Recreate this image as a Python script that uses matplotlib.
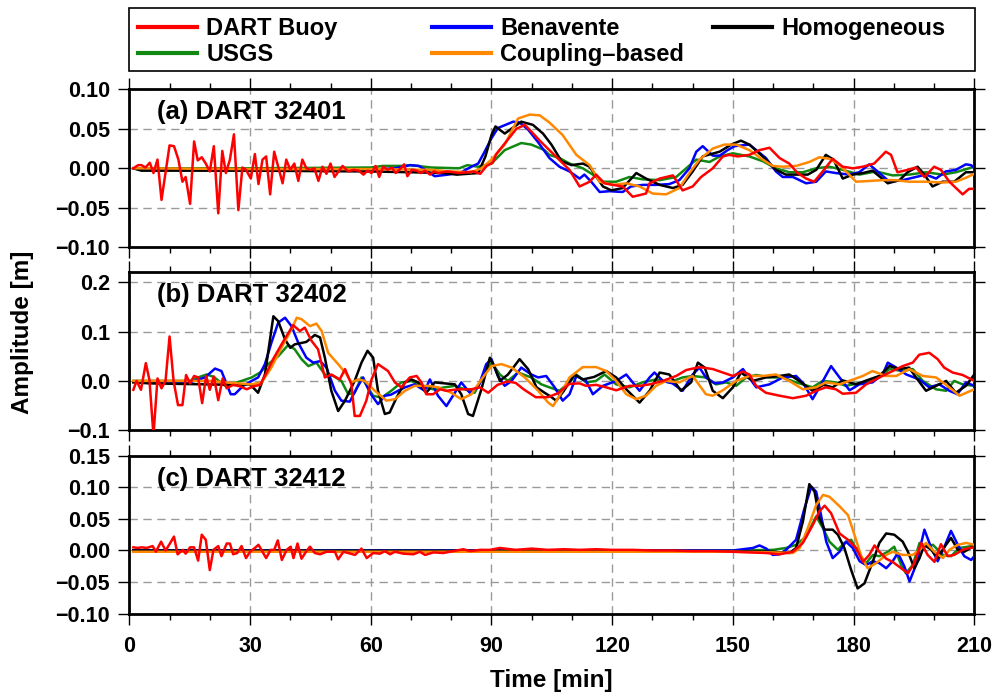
import matplotlib
matplotlib.use('Agg')
import matplotlib.pyplot as plt
from matplotlib.lines import Line2D
from matplotlib.patches import Rectangle
from matplotlib.ticker import MultipleLocator

plt.rcParams['font.family'] = ['Liberation Sans', 'DejaVu Sans']
plt.rcParams['font.weight'] = 'bold'

# ---- data (time [min], amplitude [m]) ----
# panel (a) DART 32401
a_dart = [(1, 0), (2.2, 0.004), (3, 0.004), (4, 0.001), (5.1, 0.007), (6, -0.006), (7, 0.011),
          (8, -0.040), (10, 0.029), (11.1, 0.028), (12.2, 0.011), (13.2, -0.017), (14, -0.011),
          (15.1, -0.045), (16.1, 0.034), (17, 0.010), (18, 0.014), (19, 0.006), (20, -0.004),
          (21, 0.028), (22.1, -0.057), (23.1, 0.022), (24, -0.006), (25, 0.011), (26, 0.043),
          (27.1, -0.053), (28.1, 0.001), (29, -0.002), (30.2, -0.013), (31.2, 0.018), (32.1, -0.020),
          (33.1, 0.011), (34, 0.015), (35, -0.033), (36, 0.021), (37, 0.002), (38.1, -0.019),
          (39, 0.011), (40, -0.002), (41, 0.006), (42, -0.016), (43, 0.011), (44, 0), (45, -0.002),
          (46, 0), (47, -0.016), (48, 0.002), (49, -0.007), (50, 0.006), (51, -0.011), (52, -0.004),
          (53, 0.003), (54.4, -0.004), (55.7, -0.002), (57, -0.003), (58.2, -0.008), (59.2, -0.003),
          (60.2, -0.006), (61.2, 0.003), (62.1, -0.011), (63.1, 0.002), (64.2, -0.002), (65.2, 0.001),
          (66.2, -0.006), (67.3, -0.001), (68.3, 0.005), (69.1, -0.010), (70.2, -0.002), (71.4, -0.003),
          (72.4, -0.006), (73.5, -0.003), (74.7, -0.008), (75.7, -0.004), (76.8, -0.006), (79, -0.004),
          (82, -0.006), (85.5, -0.004), (87.2, -0.007), (88.8, 0.003), (90.3, 0.007), (91.2, 0.018),
          (93.7, 0.034), (96.2, 0.050), (98.3, 0.055), (100, 0.046), (102, 0.035), (104.4, 0.023),
          (107, 0.010), (109.4, -0.002), (111.9, -0.023), (114.4, -0.017), (116, -0.008),
          (118.1, -0.019), (120.2, -0.021), (122.6, -0.023), (125.1, -0.036), (128.4, -0.032),
          (129.3, -0.019), (131.8, -0.013), (135.1, -0.009), (137.5, -0.028), (140, -0.023),
          (142.1, -0.011), (145, 0), (147.5, 0.015), (149.1, 0.017), (151.2, 0.015), (154.1, 0.017),
          (156.6, 0.023), (159.1, 0.026), (161.6, 0.013), (164, 0.006), (166.1, -0.006),
          (168.2, -0.013), (170.2, -0.017), (172.3, -0.004), (174.8, 0.012), (177.3, 0.002),
          (179.8, 0), (182.3, 0.002), (185.1, 0.006), (188, 0.021), (189.3, 0.017), (190.9, -0.005),
          (193.4, -0.002), (195.5, 0.001), (197.6, -0.011), (200, 0.002), (201.7, -0.002),
          (203.8, -0.017), (207.1, -0.033), (208.7, -0.026), (210, -0.026)]
a_benavente = [(1, 0), (3, -0.002), (60, -0.002), (66, 0), (69.8, 0.004), (72, 0.003), (75.9, -0.010),
               (79.2, -0.008), (82.5, -0.005), (85, 0.002), (86.7, 0.006), (88.3, 0.021), (90, 0.038),
               (91.6, 0.051), (95.4, 0.059), (97, 0.058), (99.1, 0.049), (101.6, 0.033), (104.4, 0.013),
               (106.9, 0.002), (109.4, -0.004), (111.9, -0.013), (113.1, -0.008), (114.8, -0.017),
               (116.9, -0.030), (119.3, -0.029), (122.6, -0.030), (124.7, -0.023), (127.6, -0.021),
               (130.9, -0.021), (134.2, -0.020), (136.7, -0.015), (139.2, 0), (140.9, 0.021),
               (142.5, 0.028), (145, 0.016), (146.7, 0.016), (148.7, 0.023), (150.4, 0.028),
               (154.1, 0.030), (155.8, 0.023), (158.2, 0.013), (160.7, -0.004), (162.4, -0.011),
               (164.9, -0.011), (168.2, -0.019), (170.7, -0.017), (173.1, -0.004), (175.6, -0.006),
               (178.9, -0.008), (181.4, -0.005), (183.9, 0.005), (186.4, -0.006), (188.9, -0.017),
               (192.2, -0.015), (195.5, -0.011), (198, -0.008), (200.5, -0.013), (202.9, -0.004),
               (205.4, -0.002), (207.9, 0.005), (209.2, 0.004), (210, 0)]
a_homogeneous = [(1, 0), (3, -0.003), (30, -0.003), (60, -0.004), (70, -0.005), (78, -0.006),
                 (81.4, -0.008), (84, -0.007), (86.7, -0.006), (88.5, 0.015), (90, 0.042), (91, 0.053),
                 (93.3, 0.044), (95.5, 0.052), (97.4, 0.059), (100.3, 0.055), (102.8, 0.044),
                 (104.9, 0.030), (107.4, 0.009), (109.9, 0.004), (112.7, 0.006), (114.4, 0.002),
                 (117.7, -0.023), (119.8, -0.028), (122.6, -0.025), (126, -0.006), (128.4, -0.013),
                 (131.8, -0.021), (135.1, -0.025), (137.5, -0.021), (140, -0.004), (142.5, 0.015),
                 (146.7, 0.021), (149.6, 0.030), (152, 0.035), (154.1, 0.030), (157.4, 0.015),
                 (160.7, -0.002), (163.2, -0.008), (165.7, -0.008), (168.6, -0.008), (170.7, -0.002),
                 (173.1, 0.017), (175, 0.011), (177.3, -0.013), (179.8, -0.008), (182.3, -0.006),
                 (184.7, -0.003), (188.5, -0.019), (191.4, -0.015), (193.4, -0.005), (195.9, 0.002),
                 (197.6, -0.008), (199.6, -0.023), (202.1, -0.017), (205, -0.017), (207.9, -0.005),
                 (210, -0.005)]
a_usgs = [(1, 0), (30, 0), (60, 0.001), (63, 0.003), (68, 0.003), (69.8, 0.004), (75, 0.001), (82, 0),
          (84, 0.004), (86.7, 0.002), (90, 0.006), (93.3, 0.023), (97.4, 0.032), (99.9, 0.030),
          (103.2, 0.023), (104.4, 0.017), (106.9, 0.013), (109.4, 0.006), (112.7, 0), (115.2, -0.008),
          (117.7, -0.017), (121, -0.017), (124.3, -0.011), (127.6, -0.014), (131.8, -0.015),
          (135.9, -0.011), (138.4, 0), (140.9, 0.011), (144.2, 0.008), (146.7, 0.015), (150, 0.019),
          (154.1, 0.015), (157.4, 0.009), (160.7, 0), (164, -0.005), (167.4, -0.005), (170.7, 0),
          (174, 0.002), (177.3, -0.002), (181.4, -0.008), (185.6, -0.004), (189.7, -0.009),
          (193.8, -0.008), (198, -0.005), (202.1, -0.008), (205.4, -0.005), (210, 0.002)]
a_coupling = [(1, 0), (30, -0.001), (60, -0.001), (75, -0.002), (80, -0.004), (85, -0.005), (87.5, 0),
              (90, 0.011), (93.3, 0.030), (96.6, 0.063), (99.5, 0.068), (102, 0.067), (104.4, 0.058),
              (107.7, 0.042), (111.1, 0.017), (114.4, 0.004), (116.9, -0.017), (120.2, -0.021),
              (123.5, -0.019), (126.8, -0.023), (130.1, -0.032), (133.4, -0.033), (136.7, -0.025),
              (139.2, -0.006), (141.7, 0.011), (145, 0.025), (147.9, 0.030), (150.8, 0.030),
              (154.1, 0.023), (157.4, 0.011), (159.9, 0.003), (162.4, 0.002), (165.7, 0.003),
              (169, 0.008), (171.5, 0.014), (174, 0.012), (176.5, 0.004), (178.9, -0.008),
              (180.6, -0.017), (184, -0.016), (187.2, -0.015), (190.5, -0.015), (193.8, -0.017),
              (198, -0.017), (202.1, -0.018), (205.4, -0.017), (207.9, -0.012), (210, -0.007)]

# panel (b) DART 32402
b_dart = [(1, -0.018), (1.8, 0), (2.9, -0.018), (4.1, 0.036), (5, 0.002), (6, -0.11), (7, 0.005),
          (8, -0.015), (9, 0), (10, 0.090), (11, 0), (12.1, -0.049), (13.2, -0.049), (14.1, 0.012),
          (15.1, -0.005), (16.1, 0.010), (17.1, 0.007), (18.1, -0.045), (19.1, 0.010), (20, -0.018),
          (21, 0.009), (22.1, -0.039), (23.2, 0.005), (24.2, -0.015), (25.8, -0.008), (27.5, -0.011),
          (29.2, -0.017), (30.8, -0.011), (32.5, -0.008), (34, 0.015), (35.8, 0.045), (37.9, 0.075),
          (40.7, 0.113), (42.4, 0.101), (43.6, 0.108), (45.3, 0.081), (46.9, 0.064), (48.6, 0.007),
          (50.2, 0.013), (52.3, 0.003), (53.6, 0.024), (55.2, -0.007), (56, -0.071), (57.3, -0.071),
          (58.9, -0.040), (60.2, 0.003), (61.8, 0.034), (64.3, 0.020), (66, -0.003), (67.6, -0.013),
          (69.7, 0.007), (71.4, 0.010), (72.6, -0.003), (73.8, -0.027), (75.5, -0.027), (77.2, -0.017),
          (78.8, -0.020), (81.7, -0.017), (85, -0.017), (87.1, -0.013), (89.2, -0.024), (91.5, -0.008),
          (94, -0.001), (96, -0.004), (98, -0.017), (101, -0.033), (104, -0.033), (106.5, -0.025),
          (109.4, -0.006), (111.9, -0.005), (113.5, -0.010), (116, -0.008), (118.5, -0.013),
          (121, -0.019), (124.3, -0.010), (126.8, -0.010), (129.3, -0.007), (132.6, 0), (135.9, 0.010),
          (138.4, 0.022), (141.7, 0.028), (145, 0.024), (147.5, 0.017), (150, 0.010), (152.5, 0.019),
          (154.1, 0.013), (155.8, -0.010), (158.2, -0.024), (161.6, -0.030), (164.9, -0.035),
          (168.2, -0.030), (170.7, -0.020), (173.1, -0.013), (175.6, -0.017), (177.3, -0.026),
          (180.6, -0.024), (183.1, -0.007), (186.4, 0.007), (189.7, 0.020), (192.2, 0.030),
          (194.7, 0.037), (196.3, 0.053), (198.8, 0.057), (200.9, 0.044), (202.5, 0.027),
          (204.6, 0.017), (207.1, 0.012), (210, 0)]
b_benavente = [(1, -0.002), (15, -0.003), (18.8, 0.007), (21.3, 0.025), (22.9, 0.020), (25.2, -0.027),
               (26.2, -0.027), (28.3, -0.010), (30.4, 0), (32, 0.007), (33.7, 0.034), (35.3, 0.077),
               (37, 0.118), (38.7, 0.128), (40.3, 0.111), (42, 0.077), (44, 0.047), (45.7, 0.037),
               (47.4, 0.040), (49, 0.027), (51.1, -0.020), (52.7, -0.040), (54.8, -0.042), (56.5, -0.015),
               (58.1, 0.007), (59.8, -0.024), (61.8, -0.047), (63.5, -0.030), (65, -0.028), (66.8, -0.020),
               (68.5, -0.013), (70.9, -0.007), (73.4, -0.020), (74.7, 0.003), (76.7, -0.030),
               (78.8, -0.051), (80.9, -0.024), (82.5, -0.003), (84.6, -0.024), (86.7, -0.013),
               (88.7, 0.034), (90, 0.044), (91.6, 0.010), (93.3, -0.010), (95, 0), (97.4, 0.027),
               (99.9, 0.013), (101.6, 0.007), (103.6, 0.010), (105.7, -0.013), (107.7, -0.040),
               (109.4, -0.027), (111.1, 0.010), (113.5, 0), (115.2, -0.027), (117.7, -0.010), (121, 0),
               (123.5, 0.013), (126.8, -0.020), (129.3, 0.007), (130.5, 0.017), (132.6, 0), (135, -0.005),
               (137.5, -0.020), (140, 0.013), (141.7, 0.027), (143.3, 0.007), (145.5, -0.005),
               (147.5, -0.003), (150, 0.007), (152.5, 0.024), (155.8, -0.013), (159.1, -0.007),
               (162.4, 0.007), (165.7, 0.010), (167.5, -0.005), (169.8, -0.037), (171.5, -0.013),
               (174.4, 0.030), (176.5, 0.007), (179, -0.019), (181.4, -0.007), (184.7, -0.003),
               (187.2, 0.013), (188.5, 0.037), (190.6, 0.027), (193.1, 0.013), (196.3, 0.003),
               (198.8, -0.013), (201.3, -0.007), (203.8, -0.020), (205.8, -0.027), (207.9, -0.003),
               (210, -0.010)]
b_homogeneous = [(1, -0.003), (5, -0.005), (26.2, -0.008), (30, -0.007), (32, -0.024), (33.7, 0.013),
                 (35.8, 0.131), (37, 0.121), (38.7, 0.084), (40, 0.067), (41.1, 0.074), (44, 0.079),
                 (46.1, 0.093), (47.4, 0.088), (48.6, 0.047), (50.2, -0.020), (51.9, -0.061),
                 (53.6, -0.040), (56, 0), (57.7, 0.037), (59.2, 0.061), (60.6, 0.047), (61.8, -0.020),
                 (63.5, -0.067), (64.7, -0.064), (66.4, -0.034), (68.5, -0.003), (70.1, 0.003),
                 (71.8, -0.003), (73.8, -0.024), (75.9, -0.003), (78.4, -0.005), (80.9, -0.007),
                 (82.5, -0.027), (84.2, -0.067), (85.4, -0.071), (87.5, -0.017), (89.6, 0.047),
                 (90.8, 0.027), (92.1, 0), (94.1, 0.013), (97, 0.044), (99.1, 0.024), (101.2, -0.013),
                 (103.2, -0.024), (104.4, -0.030), (106.1, -0.040), (108, -0.020), (110.6, 0.013),
                 (112.7, 0.003), (115.5, 0.008), (118.5, 0.020), (121, 0.007), (123.5, -0.017),
                 (126.8, -0.044), (129.3, -0.020), (131.8, 0.017), (134.2, 0.013), (137.1, -0.020),
                 (139.6, -0.003), (141.3, 0.037), (143, 0.027), (145, -0.020), (147.5, -0.035),
                 (150, -0.013), (152, 0.017), (154.9, 0), (158.2, 0.007), (161.6, 0.010), (164, 0.013),
                 (166.5, 0), (169.8, -0.020), (172.5, -0.008), (174.8, -0.013), (177.3, 0.001),
                 (180.6, -0.007), (183.9, 0.003), (186.4, 0.010), (188.9, 0.030), (191.4, 0.024),
                 (193.8, 0.027), (195.5, 0.007), (198, -0.020), (200.5, -0.010), (203, 0),
                 (205.4, -0.024), (207.9, -0.010), (210, 0.013)]
b_usgs = [(1, 0), (15, 0), (17.1, 0.007), (19.2, 0.013), (21, 0.008), (23.8, -0.010), (27.9, 0),
          (30.4, 0.007), (32.5, 0.017), (34.5, 0.034), (37, 0.050), (39.5, 0.073), (41.1, 0.064),
          (42.8, 0.044), (44.5, 0.030), (46.5, 0.037), (48.6, 0.013), (50.7, 0.010), (52.7, 0),
          (54.4, -0.027), (56, -0.024), (57.7, 0.007), (60.6, -0.030), (62.7, -0.034), (65.1, -0.020),
          (67.6, -0.003), (70.1, 0), (72.6, -0.010), (75.5, -0.017), (78.4, -0.013), (80.9, -0.010),
          (83.4, -0.017), (85.8, -0.024), (88.3, 0.013), (90, 0.037), (92.1, 0.013), (94.1, 0),
          (96.6, 0.017), (99.9, 0.007), (102.4, -0.007), (104.4, -0.013), (106.9, -0.020),
          (109.4, -0.003), (111.1, 0.013), (113.5, -0.003), (116, 0), (118.1, 0.013), (121, -0.007),
          (124.3, -0.013), (127.5, -0.003), (130.9, 0.003), (134.2, -0.003), (137.5, 0.007),
          (140, 0.010), (143.3, 0.007), (145.8, -0.007), (148.3, -0.003), (150.8, -0.010),
          (153.3, 0.007), (155.8, 0.012), (159.1, 0.007), (162.4, 0.007), (165.7, -0.003),
          (169.8, -0.013), (172.3, 0), (175.6, -0.003), (178.1, -0.010), (182.3, -0.003),
          (186.4, 0.007), (188.9, 0.024), (192.2, 0.020), (194.7, 0.024), (197.2, 0), (200.5, -0.017),
          (203, -0.020), (205, 0), (207.1, -0.007), (210, -0.010)]
b_coupling = [(1, 0), (20, 0), (23.8, -0.003), (30.4, -0.007), (32.9, -0.003), (35.3, 0.027),
              (37.8, 0.067), (40.3, 0.104), (41.6, 0.128), (42.8, 0.125), (44.9, 0.111), (46.5, 0.116),
              (47.8, 0.101), (49.4, 0.057), (51.9, 0.034), (54, 0.013), (55.2, -0.003), (56.9, 0.003),
              (58.5, 0), (61, -0.020), (63.9, -0.040), (66, -0.037), (68.5, -0.020), (70.9, -0.010),
              (74.3, -0.010), (76.7, -0.013), (80, -0.024), (82.5, -0.037), (85, -0.027), (87.5, 0.003),
              (90, 0.030), (92.5, 0.034), (95, 0.027), (98.3, 0.007), (101.6, -0.020), (104.1, -0.044),
              (105.3, -0.051), (106.9, -0.030), (109.4, 0.007), (112.7, 0.028), (116, 0.028),
              (118.5, 0.020), (121, 0), (123.5, -0.027), (126, -0.037), (128.4, -0.030), (130.9, -0.010),
              (133.4, 0), (136.7, -0.003), (140, 0.010), (143.3, -0.027), (145, -0.030), (147.5, -0.019),
              (150.8, 0), (154.1, 0.010), (157.4, 0.010), (160.7, 0.013), (164, 0), (167.4, -0.017),
              (170.7, -0.013), (173.1, -0.003), (176.5, -0.007), (178.9, 0), (182.3, 0.010),
              (184.7, 0.020), (188, 0.010), (190.6, 0.010), (193.8, 0.024), (197.2, 0.010),
              (200.5, 0.007), (203.8, -0.013), (206.3, -0.030), (210, -0.017)]

# panel (c) DART 32412
c_dart = [(1, 0.005), (2, 0.004), (3.1, 0.005), (4.3, 0.004), (5.8, 0.007), (6.6, -0.002), (7.9, 0.014),
          (9, 0), (9.9, 0.009), (11.1, 0.022), (12, -0.006), (13.3, 0.001), (14, -0.005), (15.1, 0.005),
          (16.1, 0.005), (17.1, -0.016), (18, 0.025), (19, 0.017), (20, -0.031), (20.9, 0.001),
          (22.1, 0.007), (22.9, -0.009), (24.2, 0.011), (25, 0.011), (25.8, -0.006), (26.8, -0.004),
          (27.9, 0.007), (29, -0.012), (30, -0.002), (31.2, 0.004), (32.1, 0.009), (33.1, -0.002),
          (34, -0.012), (35.1, 0.001), (36, 0.001), (36.9, 0.016), (37.9, -0.015), (39.1, 0.001),
          (40.1, 0.006), (40.8, -0.012), (41.8, 0.011), (42.8, -0.013), (43.9, -0.002), (44.9, 0.006),
          (46.1, -0.004), (47.4, -0.006), (49, -0.002), (51.1, -0.002), (51.9, -0.014), (53.2, -0.002),
          (54.4, -0.004), (56.1, -0.007), (57.7, 0.003), (59, -0.012), (60.6, -0.004), (62.3, -0.005),
          (63.5, -0.001), (64.8, -0.006), (66, -0.002), (68.1, -0.005), (70.6, -0.006), (72.2, -0.002),
          (73.5, -0.007), (75.6, -0.003), (78, -0.004), (80.5, -0.001), (83, 0.002), (84.7, -0.001),
          (87.2, 0.001), (89.6, 0.001), (92.1, 0.004), (96, 0.001), (100, 0.003), (104, 0.001),
          (108, 0.002), (112, 0.001), (116, 0.002), (120, 0.001), (125, 0.001), (130, 0), (135, 0),
          (140, -0.001), (145, -0.001), (150, -0.002), (154.1, -0.003), (158.3, -0.004),
          (161.6, -0.006), (164.9, -0.002), (167.4, 0.012), (169.9, 0.041), (171.5, 0.062),
          (172.8, 0.071), (174.4, 0.059), (176.5, 0.027), (178.6, 0.017), (180.6, 0.004),
          (182.3, -0.018), (183.9, -0.007), (185.2, 0.008), (186.4, -0.002), (188.1, -0.013),
          (189.7, -0.018), (191.8, -0.028), (193.5, -0.036), (195.1, -0.020), (196.8, 0.012),
          (198.4, -0.007), (200.1, -0.018), (201.7, 0.010), (203.4, -0.009), (205, -0.007),
          (207.1, 0.001), (208.8, 0.004), (210, 0.005)]
c_benavente = [(1, 0), (150, 0), (155, 0.004), (156.6, 0.008), (158.3, 0.003), (159.9, -0.007),
               (161.6, -0.006), (163.2, 0.001), (165.7, 0.017), (167.8, 0.067), (169.5, 0.101),
               (170.7, 0.093), (171.9, 0.056), (173.2, 0.014), (174.8, -0.012), (176.5, -0.002),
               (178.1, 0.014), (179.8, 0.004), (181.5, -0.017), (183.1, -0.023), (184.8, -0.017),
               (186.4, -0.020), (188.1, -0.028), (189.7, -0.017), (191, -0.004), (192.6, -0.025),
               (193.9, -0.049), (195.5, -0.023), (197.6, 0.033), (199.3, 0.004), (200.9, -0.017),
               (202.5, 0.005), (204.2, 0.031), (205.9, 0.009), (207.5, -0.009), (209.2, -0.015),
               (210, -0.009)]
c_homogeneous = [(1, 0), (150, -0.001), (160, -0.002), (164.1, -0.004), (165.7, 0.004), (167.4, 0.046),
                 (169, 0.105), (170.3, 0.093), (171.5, 0.051), (172.8, 0.033), (174.8, 0.033),
                 (176.1, 0.025), (177.7, 0.004), (179.4, -0.031), (181, -0.060), (182.7, -0.052),
                 (184.8, -0.017), (186.4, 0.012), (188.1, 0.027), (190.1, 0.025), (192.2, 0.014),
                 (193.5, -0.002), (195.1, -0.028), (196.4, -0.012), (197.6, 0.009), (199.3, 0.001),
                 (200.9, -0.012), (202.5, 0.005), (204.2, 0.020), (205.9, 0.001), (207.5, -0.002),
                 (209.6, 0.006), (210, 0.006)]
c_usgs = [(1, 0), (150, 0), (160, 0.001), (163.2, 0.004), (165.7, 0.009), (168.2, 0.022), (170.7, 0.054),
          (172.4, 0.035), (174, 0.014), (176.1, 0.001), (177.7, 0.012), (179.4, 0.017), (181, -0.002),
          (183.1, -0.020), (184.8, -0.007), (186.4, -0.009), (188.5, -0.002), (190.1, 0.006),
          (191.8, -0.023), (193, -0.036), (194.7, -0.023), (196.4, 0.012), (198, 0.006), (199.7, 0.009),
          (202.2, -0.007), (204.2, -0.009), (206.3, 0.004), (208.4, 0.006), (210, 0.008)]
c_coupling = [(1, -0.002), (150, -0.002), (160, -0.003), (164.9, -0.004), (166.6, 0.004), (168.6, 0.035),
              (170.7, 0.072), (172.4, 0.088), (174, 0.085), (176.5, 0.070), (178.6, 0.056),
              (180.2, 0.025), (181.9, -0.009), (183.5, -0.028), (185.6, -0.020), (188.1, -0.007),
              (189.7, -0.002), (192.2, -0.007), (194.7, -0.007), (196.4, 0.001), (198, 0.012),
              (200.1, -0.002), (202.2, -0.012), (203.8, 0.001), (205.9, 0.009), (208, 0.012),
              (210, 0.009)]

colors = {'DART Buoy': '#ff0000', 'USGS': '#118811', 'Benavente': '#0000ff',
          'Coupling\u2013based': '#ff8800', 'Homogeneous': '#000000'}

panels = [
    ('(a) DART 32401', {'USGS': a_usgs, 'Benavente': a_benavente, 'Homogeneous': a_homogeneous,
                        'Coupling\u2013based': a_coupling, 'DART Buoy': a_dart}),
    ('(b) DART 32402', {'USGS': b_usgs, 'Benavente': b_benavente, 'Homogeneous': b_homogeneous,
                        'Coupling\u2013based': b_coupling, 'DART Buoy': b_dart}),
    ('(c) DART 32412', {'USGS': c_usgs, 'Benavente': c_benavente, 'Homogeneous': c_homogeneous,
                        'Coupling\u2013based': c_coupling, 'DART Buoy': c_dart}),
]
ylims = [(-0.10, 0.10), (-0.10, 0.22), (-0.10, 0.15)]
yticks = [[-0.10, -0.05, 0.0, 0.05, 0.10], [-0.1, 0.0, 0.1, 0.2], [-0.10, -0.05, 0.0, 0.05, 0.10, 0.15]]
ydecimals = [2, 1, 2]
xticks = [0, 30, 60, 90, 120, 150, 180, 210]

# axes placement (figure fractions)
left, width = 0.1301, 0.8501
bottoms = [0.6442, 0.3809, 0.1170]
height = 0.2273

fig = plt.figure(figsize=(9.94, 6.95), dpi=100)

for i, (title, series) in enumerate(panels):
    ax = fig.add_axes([left, bottoms[i], width, height])
    for name, pts in series.items():
        t = [p[0] for p in pts]
        v = [p[1] for p in pts]
        ax.plot(t, v, color=colors[name], lw=1.8, zorder=3)
    ax.set_xlim(0, 210)
    ax.set_ylim(*ylims[i])
    ax.set_xticks(xticks)
    ax.xaxis.set_minor_locator(MultipleLocator(10))
    d = ydecimals[i]
    ax.set_yticks(yticks[i])
    ax.set_yticklabels([f'{y:.{d}f}'.replace('-', '\u2212') for y in yticks[i]])
    ax.grid(True, which='major', color='#9a9a9a', lw=1.0, ls=(0, (6, 4)), zorder=1)
    ax.tick_params(which='major', direction='out', length=8, width=1, top=True, right=True,
                   labelsize=15.5)
    ax.tick_params(axis='y', pad=6)
    ax.tick_params(axis='x', pad=8)
    ax.tick_params(which='minor', direction='out', length=4, width=1, top=True, bottom=True)
    for s in ax.spines.values():
        s.set_linewidth(2)
    if i < 2:
        ax.tick_params(labelbottom=False)
    ax.text(0.033, 0.855, title, transform=ax.transAxes, fontsize=18.5, fontweight='bold',
            ha='left', va='center')

fig.text(0.0226, 1 - 332 / 695, 'Amplitude [m]', rotation=90, ha='center', va='center',
         fontsize=17.5, fontweight='bold')
fig.text(551.8 / 994, 1 - 680 / 695, 'Time [min]', ha='center', va='center',
         fontsize=17.5, fontweight='bold')

# legend: box with three columns
fig.add_artist(Rectangle((0.1301, 1 - 71 / 695), 0.8508, (71 - 8.3) / 695,
                         transform=fig.transFigure, fill=False, lw=1.2, ec='black'))
legend_cols = [['DART Buoy', 'USGS'], ['Benavente', 'Coupling\u2013based'], ['Homogeneous']]
col_x = [138 / 994, 432 / 994, 713 / 994]
for names, x in zip(legend_cols, col_x):
    handles = [Line2D([], [], color=colors[n], lw=3) for n in names]
    fig.legend(handles, names, loc='upper left', bbox_to_anchor=(x, 1 - 17 / 695),
               frameon=False, fontsize=17, handlelength=2.5, handletextpad=0.4,
               labelspacing=0.12, borderpad=0, borderaxespad=0)

fig.savefig('out.png', dpi=100)
